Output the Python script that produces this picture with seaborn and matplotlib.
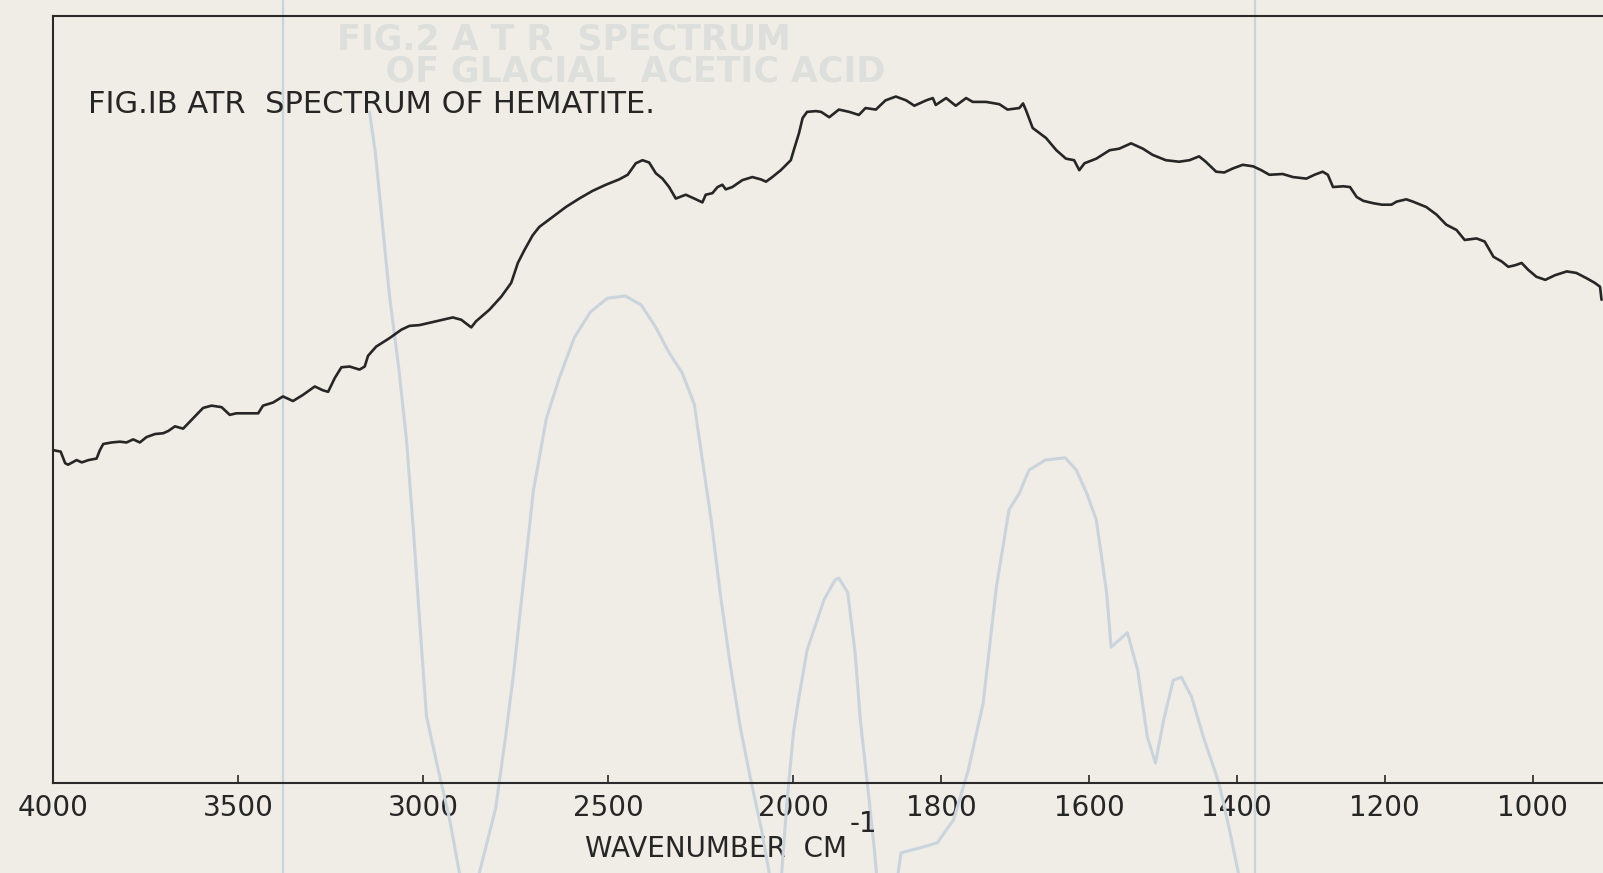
import numpy as np
import matplotlib
matplotlib.use("Agg")
import matplotlib.pyplot as plt
import seaborn as sns

# ---------------- data ----------------
wavenumber = [4000, 3980, 3968, 3960, 3937, 3923, 3905, 3883, 3874, 3865,
              3842, 3820, 3802, 3784, 3766, 3748, 3725, 3703, 3689, 3671,
              3649, 3635, 3617, 3595, 3572, 3545, 3523, 3505, 3478, 3446,
              3433, 3406, 3379, 3352, 3325, 3293, 3271, 3257, 3239, 3221,
              3199, 3172, 3158, 3149, 3127, 3091, 3059, 3037, 3010, 2983,
              2956, 2920, 2897, 2870, 2857, 2821, 2789, 2762, 2744, 2726,
              2704, 2686, 2650, 2614, 2578, 2542, 2506, 2470, 2447, 2425,
              2407, 2389, 2371, 2353, 2335, 2317, 2290, 2267, 2245, 2236,
              2218, 2204, 2191, 2182, 2164, 2137, 2110, 2087, 2073, 2056,
              2033, 2006, 1999, 1992, 1987, 1981, 1969, 1962, 1951, 1938,
              1924, 1911, 1902, 1888, 1875, 1861, 1847, 1836, 1820, 1811,
              1807, 1793, 1780, 1766, 1757, 1739, 1721, 1710, 1694, 1689,
              1685, 1676, 1658, 1644, 1631, 1620, 1613, 1606, 1590, 1572,
              1559, 1543, 1527, 1514, 1496, 1478, 1464, 1451, 1442, 1428,
              1417, 1406, 1392, 1378, 1367, 1356, 1338, 1324, 1306, 1295,
              1284, 1277, 1270, 1256, 1247, 1238, 1229, 1216, 1204, 1191,
              1184, 1171, 1162, 1144, 1130, 1117, 1103, 1092, 1076, 1065,
              1053, 1042, 1033, 1024, 1015, 1006, 995, 983, 970, 954,
              941, 927, 916, 909, 907]
signal = [43.4, 43.2, 41.7, 41.5, 42.1, 41.8, 42.1, 42.3, 43.4, 44.2,
          44.4, 44.5, 44.4, 44.8, 44.4, 45.1, 45.5, 45.6, 45.9, 46.5,
          46.2, 46.9, 47.8, 48.9, 49.2, 49.0, 48.0, 48.2, 48.2, 48.2,
          49.2, 49.6, 50.4, 49.8, 50.6, 51.7, 51.2, 51.0, 52.8, 54.2,
          54.3, 53.9, 54.3, 55.7, 56.9, 58.0, 59.1, 59.6, 59.7, 60.0,
          60.3, 60.7, 60.4, 59.4, 60.2, 61.7, 63.4, 65.2, 67.8, 69.5,
          71.4, 72.5, 73.8, 75.1, 76.2, 77.2, 78.0, 78.7, 79.3, 80.8,
          81.2, 80.9, 79.5, 78.8, 77.7, 76.2, 76.7, 76.2, 75.7, 76.7,
          76.9, 77.7, 78.0, 77.4, 77.7, 78.6, 79.0, 78.7, 78.4, 79.0,
          79.9, 81.2, 82.5, 84.7, 86.7, 87.5, 87.6, 87.5, 86.8, 87.8,
          87.5, 87.1, 88.0, 87.8, 89.0, 89.5, 89.0, 88.3, 89.0, 89.3,
          88.4, 89.3, 88.3, 89.3, 88.8, 88.8, 88.5, 87.8, 88.0, 88.6,
          87.7, 85.4, 84.1, 82.5, 81.4, 81.2, 79.9, 80.8, 81.4, 82.5,
          82.7, 83.4, 82.7, 81.9, 81.2, 81.0, 81.2, 81.7, 81.0, 79.7,
          79.6, 80.1, 80.6, 80.4, 79.9, 79.3, 79.4, 79.0, 78.8, 79.3,
          79.7, 79.3, 77.7, 77.8, 77.7, 76.4, 75.9, 75.6, 75.4, 75.4,
          75.8, 76.1, 75.8, 75.1, 74.1, 72.8, 72.1, 70.8, 71.0, 70.6,
          68.6, 68.0, 67.3, 67.5, 67.8, 66.9, 66.0, 65.6, 66.2, 66.7,
          66.5, 65.8, 65.2, 64.7, 63.0]

# faint show-through spectrum from the next page of the scan
ghost_wavenumber = [3145, 3129, 3110, 3091, 3066, 3045, 3026, 3007, 2991, 2961,
                    2929, 2902, 2875, 2848, 2804, 2777, 2756, 2732, 2702, 2667,
                    2632, 2591, 2548, 2502, 2453, 2410, 2372, 2335, 2300, 2267,
                    2245, 2221, 2197, 2170, 2143, 2116, 2086, 2051, 2032, 2016,
                    1999, 1992, 1981, 1972, 1958, 1943, 1938, 1926, 1916, 1909,
                    1899, 1890, 1884, 1863, 1854, 1830, 1805, 1783, 1763, 1743,
                    1725, 1714, 1708, 1694, 1681, 1659, 1632, 1617, 1603, 1590,
                    1576, 1570, 1555, 1548, 1534, 1521, 1510, 1499, 1486, 1475,
                    1461, 1444, 1430, 1423, 1410, 1396]
ghost_signal = [87.5, 82.1, 72.8, 63.5, 54.1, 44.7, 32.7, 19.4, 8.7, 2.1,
                -4.6, -11.7, -17.9, -11.7, -3.3, 6.1, 14.1, 24.8, 38.1, 47.5,
                52.8, 58.1, 61.4, 63.2, 63.5, 62.3, 59.5, 56.1, 53.5, 49.4,
                42.1, 34.2, 24.8, 15.5, 7.4, 0.8, -5.9, -15.3, -12.6, -2.2,
                6.9, 11.2, 17.3, 19.9, 23.9, 26.5, 26.7, 24.8, 16.9, 8.2,
                -0.5, -8.7, -15.3, -15.3, -9.1, -8.5, -7.8, -4.8, 1.7, 10.4,
                25.6, 32.1, 35.6, 37.8, 40.8, 42.1, 42.4, 40.8, 37.8, 34.3,
                24.8, 17.7, 19.0, 19.6, 14.7, 6.0, 2.6, 8.2, 13.4, 13.8,
                11.2, 5.6, 1.7, -0.5, -6.1, -12.6]
ghost_rules = [3380, 1376]

tick_values = [4000, 3500, 3000, 2500, 2000, 1800, 1600, 1400, 1200, 1000]
tick_labels = ["4000", "3500", "3000", "2500", "2000", "1800", "1600", "1400", "1200", "1000"]
title_text = "FIG.IB ATR  SPECTRUM OF HEMATITE."
xlabel_text = "WAVENUMBER  CM"
xlabel_power = "-1"
ghost_title = "FIG.2 A T R  SPECTRUM\n    OF GLACIAL  ACETIC ACID"


# ------------- scale: 2x expansion below 2000 cm-1 -------------
def forward(w):
    w = np.asarray(w, dtype=float)
    return np.where(w >= 2000, w - 4000.0, 2.0 * w - 6000.0)


def inverse(v):
    v = np.asarray(v, dtype=float)
    return np.where(v >= -2000, v + 4000.0, (v + 6000.0) / 2.0)


paper = "#efede5"
ink = "#262626"
ghost = "#cad4dd"

sns.set_theme(style="white")
plt.rcParams["font.family"] = ["DejaVu Sans"]

fig = plt.figure(figsize=(16.03, 8.73), dpi=100, facecolor=paper)
ax = fig.add_axes([0.03325, 0.10309, 0.96675, 0.87858])
ax.set_facecolor(paper)
ax.set_xscale("function", functions=(forward, inverse))

# show-through artefacts
for w in ghost_rules:
    ax.axvline(w, ymin=-0.13, ymax=1.03, color=ghost, lw=1.6, clip_on=False, zorder=0.5)
sns.lineplot(x=ghost_wavenumber, y=ghost_signal, sort=False, estimator=None,
             color=ghost, lw=2.2, ax=ax, zorder=0.6)
ax.lines[-1].set_clip_on(False)
ax.text(337 / 1603, 1 - 22 / 873, ghost_title, transform=fig.transFigure,
        ha="left", va="top", fontsize=25, fontweight="bold", linespacing=0.95,
        color="#dddfdc", zorder=0.4)

# main spectrum
sns.lineplot(x=wavenumber, y=signal, sort=False, estimator=None,
             color=ink, lw=1.9, ax=ax, zorder=3)

ax.set_xlim(4000, 905)
ax.set_ylim(0, 100)
ax.set_xticks(tick_values)
ax.set_xticklabels(tick_labels)
ax.set_yticks([])
ax.set_ylabel("")
ax.tick_params(axis="x", direction="in", length=6, width=1.2, pad=8,
               labelsize=20, colors=ink, bottom=True, top=False)

for side in ["left", "top", "bottom"]:
    ax.spines[side].set_visible(True)
    ax.spines[side].set_color("#2a2a2a")
    ax.spines[side].set_linewidth(1.5)
ax.spines["right"].set_visible(False)

ax.set_xlabel(xlabel_text, fontsize=20, color=ink)
ax.xaxis.set_label_coords((585 - 53.3) / 1549.7, (783 - 857) / 767)
ax.xaxis.label.set_ha("left")
ax.xaxis.label.set_va("baseline")

fig.text(850 / 1603, 1 - 832 / 873, xlabel_power, ha="left", va="baseline",
         fontsize=20, color=ink)
fig.text(88 / 1603, 1 - 113 / 873, title_text, ha="left", va="baseline",
         fontsize=22, color=ink)

fig.savefig("out.png", dpi=100, facecolor=paper)
